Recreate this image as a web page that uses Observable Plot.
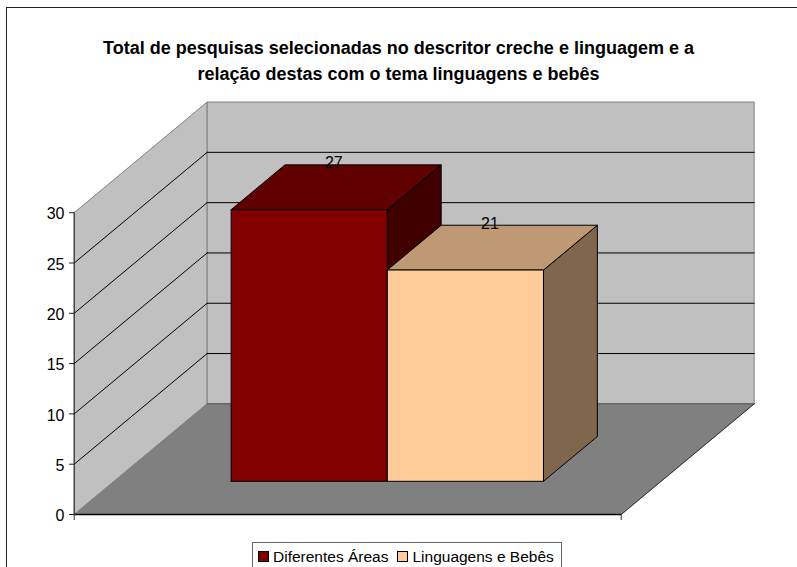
<!DOCTYPE html>
<html><head><meta charset="utf-8">
<script src="https://cdn.jsdelivr.net/npm/d3@7"></script>
<script src="https://cdn.jsdelivr.net/npm/@observablehq/plot@0.6"></script>
<style>
html,body{margin:0;padding:0;background:#fff;width:797px;height:567px;overflow:hidden;font-family:"Liberation Sans",Arial,sans-serif;color:#000}
#frame{position:absolute;left:6px;top:7px;width:791px;height:560px;border-left:1px solid #222;border-top:1px solid #222;box-sizing:border-box;overflow:hidden}
#title{position:absolute;left:-7px;top:-8px;width:797px;height:95px;box-sizing:border-box;padding-top:34.5px;text-align:center;font-weight:bold;font-size:18px;line-height:26px}
#chart{position:absolute;left:-7px;top:87px}
#chart svg{display:block;overflow:visible}
#legend{position:absolute;left:245px;top:533.5px;width:310px;height:40px;box-sizing:border-box;border:1px solid #666;font-size:15.5px;display:flex;padding:5px 0 0 5px;white-space:nowrap;background:#fff}
#legend .sw{display:inline-block;width:11px;height:11px;box-sizing:border-box;border:1px solid #000;margin:3px 4px 0 0;flex:none}
#legend .it{display:flex;margin-right:9px;line-height:18px}
</style></head><body>
<div id="frame">
<div id="title">Total de pesquisas selecionadas no descritor creche e linguagem e a<br>relação destas com o tema linguagens e bebês</div>
<div id="chart"></div>
<div id="legend"></div>
</div>
<script>
const seriesNames = ["Diferentes Áreas", "Linguagens e Bebês"];
const seriesValues = [27, 21];
const frontColors = ["#800000", "#FFCC99"];
const topColors = ["#600000", "#BF9973"];
const sideColors = ["#400000", "#80664D"];
const yTicks = [0, 5, 10, 15, 20, 25, 30];
const xEnds = [0, 1];
const barEdges = [0.214, 0.4995, 0.785];
const barDepth = [0.3, 0.705];
const depthX = 0.2431, depthY = 11;
const wallFill = "#C0C0C0", floorFill = "#808080", edge = "#808080";

// oblique projection: category position u, value v, depth d
const P = (u, v, d) => ({x: u + d * depthX, y: v + d * depthY});
const face = (pts, fill, stroke, sw = 1) => {
  const rows = pts.concat([pts[0]]).map(p => P(...p));
  return Plot.line(rows, {x: "x", y: "y", fill, stroke, strokeWidth: sw});
};
const seg = (a, b, stroke, sw = 1) => Plot.line([P(...a), P(...b)], {x: "x", y: "y", stroke, strokeWidth: sw});

const maxV = d3.max(yTicks);
const marks = [
  face([[0,0,0],[0,maxV,0],[0,maxV,1],[0,0,1]], wallFill, edge),
  face([[0,0,1],[0,maxV,1],[1,maxV,1],[1,0,1]], wallFill, edge),
  face([[0,0,0],[0,0,1],[1,0,1],[1,0,0]], floorFill, edge),
];
for (const v of yTicks.slice(1, -1)) {
  marks.push(seg([0,v,0],[0,v,1],"#000"));
  marks.push(seg([0,v,1],[1,v,1],"#000"));
}
marks.push(seg([0,0,1],[1,0,1],"#555"));
marks.push(seg([1,0,0],[1,0,1],"#333"));
marks.push(seg([0,0,0],[1,0,0],"#000",1.5));
marks.push(Plot.ruleX(xEnds, {y1: 0, y2: -0.6, stroke: "#333"}));
marks.push(Plot.ruleX([0], {y1: 0, y2: maxV, stroke: "#222"}));

const [d0, d1] = barDepth;
seriesValues.forEach((val, i) => {
  const a = barEdges[i], b = barEdges[i + 1];
  marks.push(face([[b,0,d0],[b,0,d1],[b,val,d1],[b,val,d0]], sideColors[i], "#000"));
  marks.push(face([[a,val,d0],[a,val,d1],[b,val,d1],[b,val,d0]], topColors[i], "#000"));
  marks.push(face([[a,0,d0],[a,val,d0],[b,val,d0],[b,0,d0]], frontColors[i], "#000"));
});
marks.push(Plot.text(seriesValues.map((val, i) => ({
    ...P((barEdges[i] + barEdges[i + 1]) / 2, val, 0.5), label: String(val)
  })), {x: "x", y: "y", text: "label", dy: -24.5, dx: -2, fontSize: 16, fill: "#000"}));
marks.push(Plot.axisY({anchor: "left", ticks: yTicks, tickSize: 5, text: null, stroke: "#222", label: null}));
marks.push(Plot.axisY({anchor: "left", ticks: yTicks, tickSize: 0, tickPadding: 10, dy: 1.5, fontSize: 16, color: "#000", label: null}));

const plot = Plot.plot({
  width: 797, height: 440,
  marginLeft: 74, marginRight: 0, marginTop: 0, marginBottom: 0,
  style: {background: "transparent", fontFamily: "'Liberation Sans', Arial, sans-serif", color: "#000"},
  x: {domain: [0, 1], range: [73.7, 620.7], axis: null},
  y: {domain: [0, 30], range: [419, 117.2], axis: null},
  marks
});
document.getElementById("chart").appendChild(plot);

const legend = document.getElementById("legend");
seriesNames.forEach((n, i) => {
  const it = document.createElement("span"); it.className = "it";
  const sw = document.createElement("span"); sw.className = "sw"; sw.style.background = frontColors[i];
  const t = document.createElement("span"); t.textContent = n;
  it.append(sw, t); legend.append(it);
});
</script>
</body></html>
